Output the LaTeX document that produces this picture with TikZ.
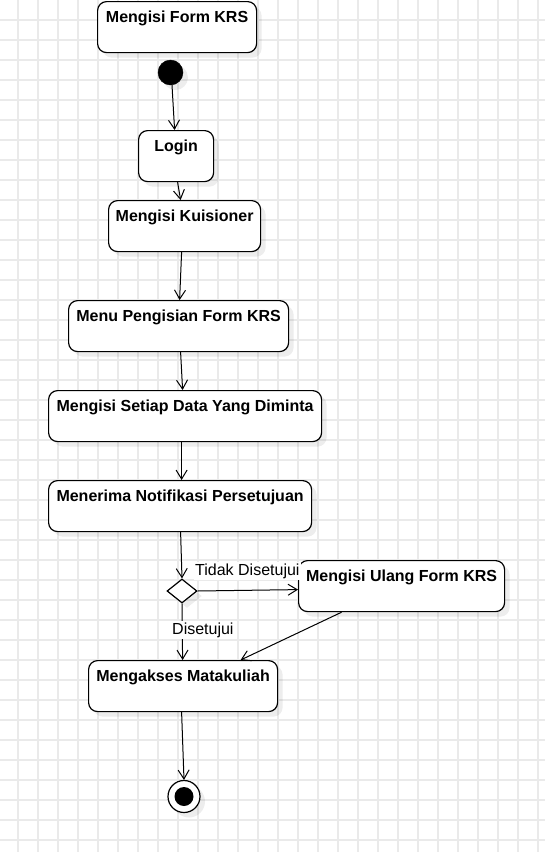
\documentclass[tikz,border=0pt]{standalone}
\usepackage{fontspec}
\setmainfont{Liberation Sans}
\usetikzlibrary{arrows.meta,shadows,shapes.geometric}
\definecolor{gridc}{HTML}{EAEAEA}
\tikzset{
  actbox/.style={draw=black, line width=1.2pt, rounded corners=9pt, fill=white,
    anchor=north west, inner xsep=0pt, inner ysep=0pt,
    text height=21pt, text depth=30pt,
    font=\fontsize{16}{18}\selectfont\bfseries,
    drop shadow={shadow xshift=5pt, shadow yshift=-5pt, fill=black, opacity=0.07}},
  conn/.style={draw=black, line width=1pt, -{Straight Barb[length=9pt,width=11pt,line width=1pt]}},
  elabel/.style={fill=white, inner sep=1.5pt, font=\fontsize{16}{18}\selectfont, anchor=base west},
  startnode/.style={circle, fill=black, draw=black, minimum size=25pt, inner sep=0pt,
    drop shadow={shadow xshift=5pt, shadow yshift=-5pt, fill=black, opacity=0.07}},
  decision/.style={diamond, draw=black, line width=1.2pt, fill=white, aspect=1.25,
    minimum width=30pt, minimum height=24pt, inner sep=0pt,
    drop shadow={shadow xshift=5pt, shadow yshift=-5pt, fill=black, opacity=0.07}},
  endouter/.style={circle, draw=black, line width=1.2pt, fill=white, minimum size=32pt, inner sep=0pt,
    drop shadow={shadow xshift=5pt, shadow yshift=-5pt, fill=black, opacity=0.07}},
  endinner/.style={circle, fill=black, minimum size=19pt, inner sep=0pt},
}
\begin{document}
\begin{tikzpicture}[x=1pt,y=-1pt]
\useasboundingbox (0,0) rectangle (545,852);
\fill[white] (0,0) rectangle (545,852);
% grid
\foreach \gx in {18,38,...,545} \draw[gridc, line width=1.15pt] (\gx,0) -- (\gx,852);
\foreach \gy in {20,40,...,852} \draw[gridc, line width=1.15pt] (0,\gy) -- (545,\gy);

% nodes
\node[actbox, minimum width=159pt] (form) at (97,1) {Mengisi Form KRS};
\node[startnode] (start) at (170.5,72.5) {};
\node[actbox, minimum width=75pt] (login) at (138,130) {Login};
\node[actbox, minimum width=152pt] (kuis) at (108,200) {Mengisi Kuisioner};
\node[actbox, minimum width=220pt] (menu) at (68,300) {Menu Pengisian Form KRS};
\node[actbox, minimum width=273pt] (setiap) at (48,390) {Mengisi Setiap Data Yang Diminta};
\node[actbox, minimum width=263pt] (notif) at (48,480) {Menerima Notifikasi Persetujuan};
\node[decision] (dec) at (182,591) {};
\node[actbox, minimum width=206pt] (ulang) at (298,560) {Mengisi Ulang Form KRS};
\node[actbox, minimum width=189pt] (akses) at (88,660) {Mengakses Matakuliah};
\node[endouter] (endo) at (184,796.5) {};
\node[endinner] (endi) at (endo.center) {};

% connectors
\draw[conn] ([xshift=1.5pt]start.south) -- ([xshift=-1.5pt]login.north);
\draw[conn] ([xshift=1.5pt]login.south) -- ([xshift=-4pt]kuis.north);
\draw[conn] ([xshift=-3pt]kuis.south) -- ([xshift=1pt]menu.north);
\draw[conn] ([xshift=2pt]menu.south) -- ([xshift=-2.5pt]setiap.north);
\draw[conn] ([xshift=-3.5pt]setiap.south) -- ([xshift=1.5pt]notif.north);
\draw[conn] ([xshift=0.5pt]notif.south) -- (dec.north);
\draw[conn] (dec.east) -- ([yshift=-3.5pt]ulang.west);
\draw[conn] (dec.south) -- ([xshift=-0.5pt]akses.north);
\draw[conn] ([xshift=-60pt]ulang.south) -- ([xshift=57.5pt]akses.north);
\draw[conn] ([xshift=-1.5pt]akses.south) -- (endo.north);

% labels
\node[elabel] (ltidak) at (193.5,575.5) {Tidak Disetujui};
\node[elabel] (lsetuju) at (170.5,634.5) {Disetujui};
\end{tikzpicture}
\end{document}
